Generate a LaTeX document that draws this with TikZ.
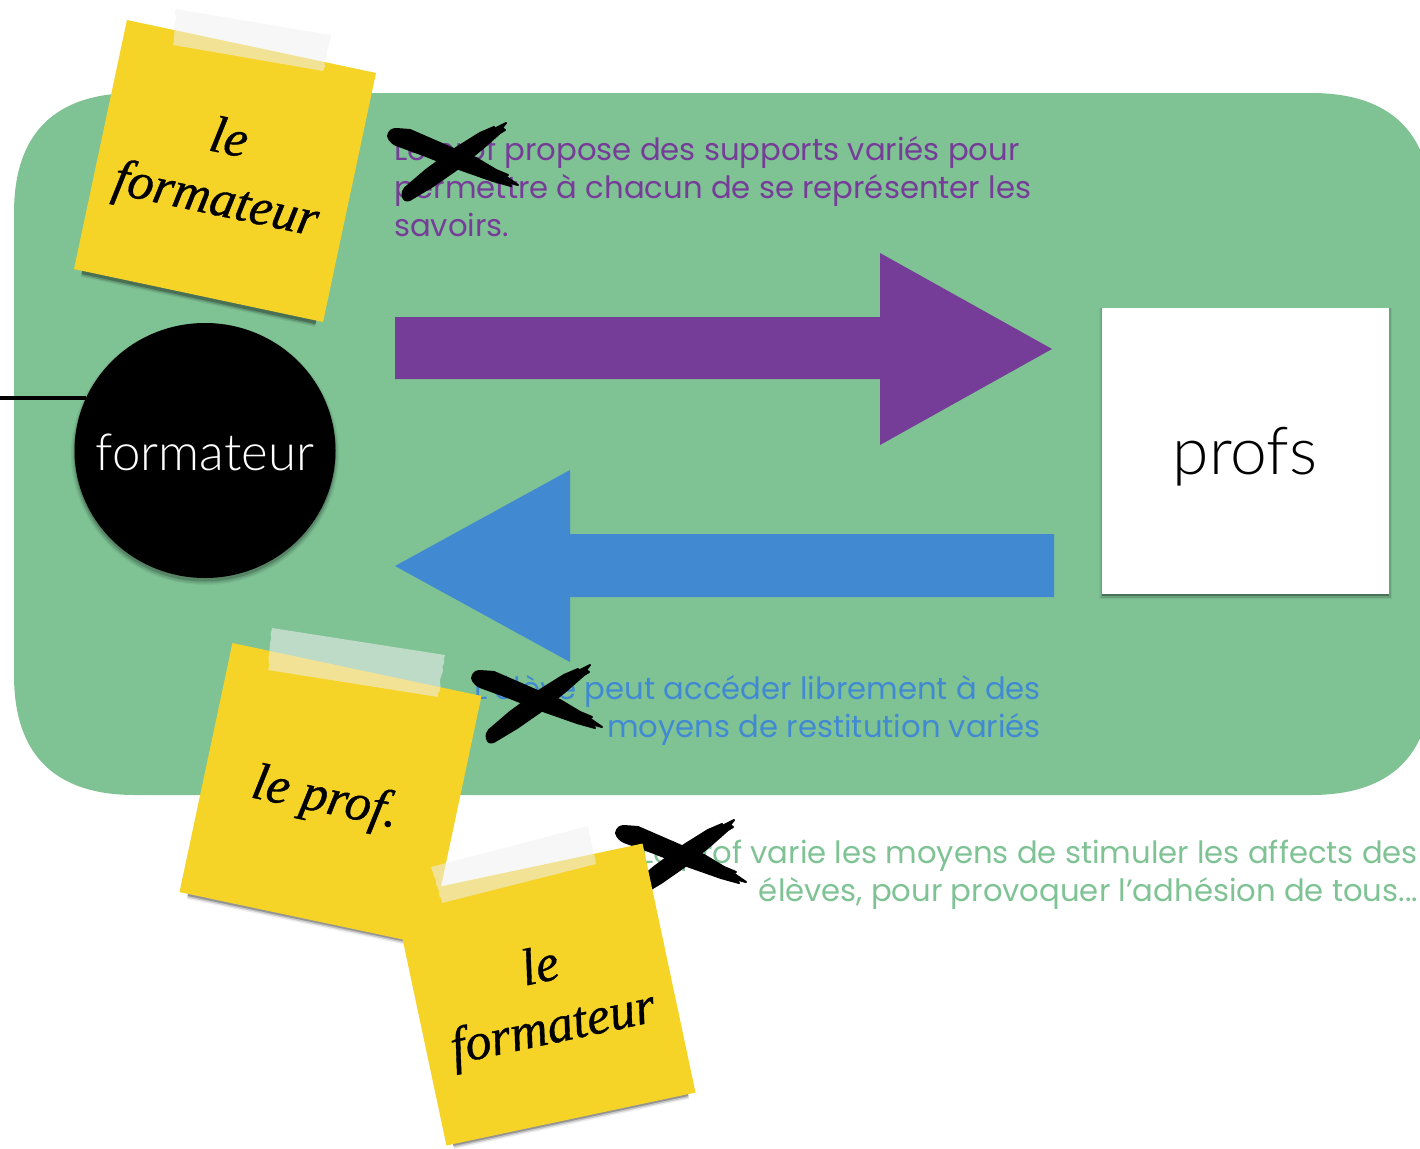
\documentclass[tikz,border=0pt]{standalone}
\usepackage{fontspec}
\usetikzlibrary{shapes.geometric,decorations.pathmorphing}
\newfontfamily\quick{Poppins}
\newfontfamily\lightf[UprightFont=* Light]{Lato}
\newfontfamily\scriptf[ItalicFeatures={FakeBold=0.7}]{Liberation Serif}
\definecolor{bggreen}{HTML}{7FC395}
\definecolor{violetc}{HTML}{763D98}
\definecolor{bluec}{HTML}{418AD2}
\definecolor{notey}{HTML}{F5D327}
\definecolor{tapec}{HTML}{F0F0F0}
\tikzset{
 every node/.style={inner sep=0pt,outer sep=0pt},
 stickynote/.style={fill=notey,minimum width=254.6pt,minimum height=254.6pt},
 scripttext/.style={align=center,font=\scriptf\itshape\fontsize{52}{62}\selectfont},
 bodytext/.style={font=\quick\fontsize{30.7}{38}\selectfont},
 tapestrip/.style={fill=tapec,fill opacity=.55},
 rough/.style={decoration={random steps,segment length=4pt,amplitude=1pt}},
 brushstroke/.style={fill=black,draw=black,line width=2pt,line join=round},
}
\newcommand{\softedge}[2]{%
 \draw[black,opacity=.08,line width=10pt] #1 -- #2;
 \draw[black,opacity=.16,line width=7pt] #1 -- #2;
 \draw[black,opacity=.25,line width=4pt] #1 -- #2;}
\newcommand{\brushcross}{%
 \fill[brushstroke] (0,13) .. controls (1,8) and (4,6) .. (8,6) -- (22,7) -- (45,17) -- (68,27) -- (88,35)
   -- (108,47) -- (120,52) -- (117,53) -- (130,62) -- (119,59) -- (123,63) -- (105,58) -- (68,45) -- (38,33)
   -- (8,22) .. controls (4,20) and (1,17) .. (0,13) -- cycle;
 \fill[brushstroke] (17,65) -- (38,47) -- (68,25) -- (92,10) -- (106,4) -- (104,7) -- (118,0) -- (114,5) -- (117,7)
   -- (112,10) -- (95,25) -- (68,47) -- (45,63) -- (25,75) .. controls (20,79) and (16,78) .. (15,74)
   .. controls (14,70) and (15,67) .. (17,65) -- cycle;}
\begin{document}
\begin{tikzpicture}[x=1pt,y=-1pt]
\useasboundingbox (0,0) rectangle (1420,1148);
\begin{scope}
 \clip (0,0) rectangle (1420,1148);
 \fill[bggreen] (14,213) .. controls (14,133) and (55,93) .. (135,93) -- (1311,93)
   .. controls (1391,93) and (1432,133) .. (1432,213) -- (1432,675)
   .. controls (1432,755) and (1391,795) .. (1311,795) -- (135,795)
   .. controls (55,795) and (14,755) .. (14,675) -- cycle;
\end{scope}
% arrows
\fill[violetc] (395,317) -- (880,317) -- (880,253) -- (1052,349) -- (880,445) -- (880,379) -- (395,379) -- cycle;
\fill[bluec] (1054,534) -- (570,534) -- (570,470) -- (395,566) -- (570,662) -- (570,597) -- (1054,597) -- cycle;
% formateur circle
\coordinate (linestart) at (0,398);
\fill[black,opacity=.06] (205,454) ellipse (134 and 131);
\fill[black,opacity=.10] (205,454) ellipse (132.5 and 129.5);
\fill[black,opacity=.18] (205,453) ellipse (131 and 128.5);
\node[ellipse,fill=black,minimum width=261pt,minimum height=255pt] (trainer) at (205,450.5) {};
\draw[black,line width=4.5pt] (linestart) -- (linestart -| trainer.156);
\node[text=white,font=\lightf\fontsize{51}{60}\selectfont] (trainerlabel) at (205,452) {formateur};
% profs square
\fill[black,opacity=.06] (1099,308) rectangle (1392,599);
\fill[black,opacity=.12] (1100.5,308) rectangle (1390.5,597.5);
\fill[black,opacity=.28] (1102,308) rectangle (1389,596);
\node[fill=white,minimum width=287pt,minimum height=286pt] (teachers) at (1245.5,451) {};
\node[text=black,font=\lightf\fontsize{66}{70}\selectfont] (teacherslabel) at (1245,457) {profs};
% body texts
\node[bodytext,text=violetc,anchor=north west,align=left] (t1) at (394,136)
 {Le prof propose des supports variés pour\\permettre à chacun de se représenter les\\savoirs.};
\node[bodytext,text=bluec,anchor=north east,align=right] (t2) at (1041,675)
 {L’élève peut accéder librement à des\\moyens de restitution variés};
\node[bodytext,text=bggreen,anchor=north east,align=right] (t3) at (1418,840)
 {Le prof varie les moyens de stimuler les affects des\\élèves, pour provoquer l’adhésion de tous...};
% brush crosses
\begin{scope}[shift={(388,123)}]\brushcross\end{scope}
\begin{scope}[shift={(472,665)}]\brushcross\end{scope}
\begin{scope}[shift={(616,820)}]\brushcross\end{scope}
% note shadows
\softedge{(82,272)}{(316,322)}
\softedge{(188,894)}{(412,941)}
\softedge{(453,1144)}{(688,1094)}
% notes
\node[stickynote,rotate=-12] (n1) at (225,171) {};
\node[stickynote,rotate=-12] (n2) at (330.5,794) {};
\node[stickynote,rotate=12] (n3) at (544.5,994.5) {};
\node[scripttext,rotate=-12] (n1text) at (222,172) {le\\formateur};
\node[scripttext,rotate=-12] (n2text) at (325,800) {le prof.};
\node[scripttext,rotate=12] (n3text) at (547,1000) {le\\formateur};
% tapes
\fill[tapestrip,rough] (176,9) -- (331,35) decorate{-- (323,71)} -- (173,45) decorate{-- (176,9)} -- cycle;
\fill[tapestrip,rough] (272,628) -- (445,655) decorate{-- (438,697)} -- (268,670) decorate{-- (272,628)} -- cycle;
\fill[tapestrip,rough] (431,867) -- (588,826) decorate{-- (596,864)} -- (442,903) decorate{-- (431,867)} -- cycle;
\end{tikzpicture}
\end{document}
